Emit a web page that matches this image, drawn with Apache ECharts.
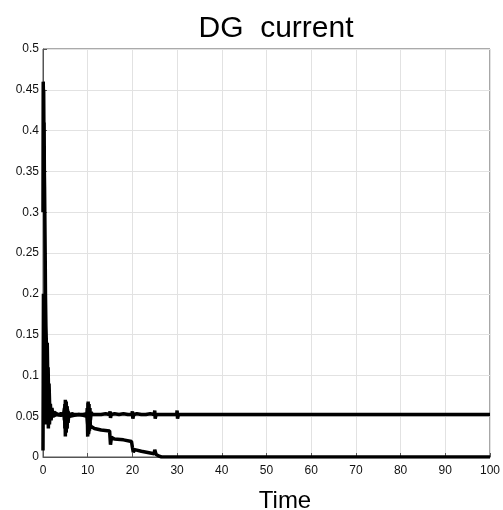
<!DOCTYPE html>
<html>
<head>
<meta charset="utf-8">
<script src="https://cdn.jsdelivr.net/npm/echarts@6/dist/echarts.min.js"></script>
<style>html,body{margin:0;padding:0;background:#fff}#c{width:503px;height:510px}</style>
</head>
<body>
<div id="c"></div>
<script>
var titleText = "DG  current";
var xName = "Time";
var xTicks = [0,10,20,30,40,50,60,70,80,90,100];
var yTicks = [0,0.05,0.1,0.15,0.2,0.25,0.3,0.35,0.4,0.45,0.5];

var upperT = [0,0.05,0.1,0.15,0.2,0.25,0.3,0.35,0.4,0.45,0.5,0.55,0.65,0.75,0.85,0.95,1.05,1.15,1.25,1.35,1.5,1.65,1.8,2.0,2.2,2.5,3.0,3.5,4.0,4.6,4.8,4.9,5.0,5.1,5.2,5.3,5.4,5.5,5.6,5.8,6.0,6.5,7,8,9,9.8,10.0,10.1,10.2,10.3,10.4,10.5,10.6,10.8,11.0,11.3,11.6,12,13,14,14.9,15.0,15.1,15.3,16,17,18,19,19.9,20.0,20.1,20.3,21,22,23,24,24.9,25.0,25.1,25.3,26,28,29.9,30.0,30.1,30.3,32,40,50,60,70,80,90,100];
var upperV = [0.30,0.46,0.44,0.45,0.40,0.41,0.35,0.33,0.30,0.27,0.24,0.20,0.16,0.14,0.12,0.14,0.10,0.11,0.07,0.09,0.06,0.065,0.05,0.06,0.052,0.055,0.053,0.052,0.053,0.052,0.06,0.035,0.07,0.03,0.068,0.035,0.062,0.042,0.056,0.05,0.052,0.053,0.052,0.052,0.052,0.053,0.04,0.068,0.03,0.065,0.035,0.06,0.045,0.055,0.052,0.054,0.052,0.053,0.052,0.053,0.052,0.056,0.048,0.052,0.053,0.052,0.053,0.052,0.052,0.056,0.047,0.052,0.053,0.052,0.052,0.053,0.052,0.057,0.047,0.052,0.052,0.052,0.052,0.057,0.047,0.052,0.052,0.052,0.052,0.052,0.052,0.052,0.052,0.052];

var lowerT = [0,0.05,0.1,0.2,0.3,0.4,0.5,0.6,0.7,0.8,0.9,1.0,1.1,1.2,1.3,1.45,1.6,1.8,2.0,2.3,3,4,4.7,4.8,4.9,5.0,5.1,5.2,5.3,5.4,5.5,5.6,5.8,6.0,7,8,9,9.8,9.9,10.0,10.1,10.2,10.3,10.4,10.5,10.6,10.8,11.5,13,14.9,15.0,15.1,15.3,16,18,19.8,20.0,20.2,20.5,22,24,24.9,25.0,25.3,26,26.5,40,60,80,100];
var lowerV = [0.008,0.09,0.2,0.04,0.15,0.06,0.12,0.05,0.1,0.04,0.09,0.04,0.075,0.035,0.065,0.04,0.06,0.045,0.055,0.05,0.052,0.051,0.052,0.045,0.065,0.025,0.066,0.03,0.062,0.035,0.058,0.042,0.054,0.05,0.051,0.052,0.051,0.05,0.06,0.025,0.066,0.028,0.06,0.032,0.052,0.038,0.04,0.035,0.033,0.032,0.03,0.015,0.024,0.022,0.021,0.019,0.012,0.006,0.009,0.007,0.005,0.004,0.009,0.003,0.001,0,0,0,0,0];

function pairs(t, v){ var out=[]; for(var i=0;i<t.length;i++){ out.push([t[i], v[i]]); } return out; }

var chart = echarts.init(document.getElementById('c'), null, {renderer:'canvas'});
var fontFam = 'Liberation Sans, Arial, sans-serif';
chart.setOption({
  animation:false,
  backgroundColor:'#fff',
  title:[
    {text:titleText, left:271, top:9, textAlign:'center', textStyle:{fontFamily:fontFam, fontSize:30, fontWeight:'normal', color:'#000'}},
    {text:xName, left:280, top:484, textAlign:'center', textStyle:{fontFamily:fontFam, fontSize:24, fontWeight:'normal', color:'#000'}}
  ],
  grid:{left:43, right:12, top:49, bottom:53, show:true, borderColor:'#555', borderWidth:1, backgroundColor:'transparent'},
  xAxis:{type:'value', min:xTicks[0], max:xTicks[xTicks.length-1], interval:10,
    axisLine:{show:true, lineStyle:{color:'#555'}},
    axisTick:{show:true, inside:true, length:4, lineStyle:{color:'#555'}},
    axisLabel:{fontFamily:fontFam, fontSize:12, color:'#111', margin:8},
    splitLine:{show:true, lineStyle:{color:'#e2e2e2', width:1}}},
  yAxis:{type:'value', min:yTicks[0], max:yTicks[yTicks.length-1], interval:0.05,
    axisLine:{show:true, lineStyle:{color:'#555'}},
    axisTick:{show:true, inside:true, length:4, lineStyle:{color:'#555'}},
    axisLabel:{fontFamily:fontFam, fontSize:12, color:'#111', margin:4,
      formatter:function(v){ return String(Math.round(v*100)/100); }},
    splitLine:{show:true, lineStyle:{color:'#e2e2e2', width:1}}},
  series:[
    {type:'line', data:pairs(upperT, upperV), showSymbol:false, symbol:'none', lineStyle:{color:'#000', width:3.5}, clip:true},
    {type:'line', data:pairs(lowerT, lowerV), showSymbol:false, symbol:'none', lineStyle:{color:'#000', width:3.5}, clip:true}
  ]
});
</script>
</body>
</html>
